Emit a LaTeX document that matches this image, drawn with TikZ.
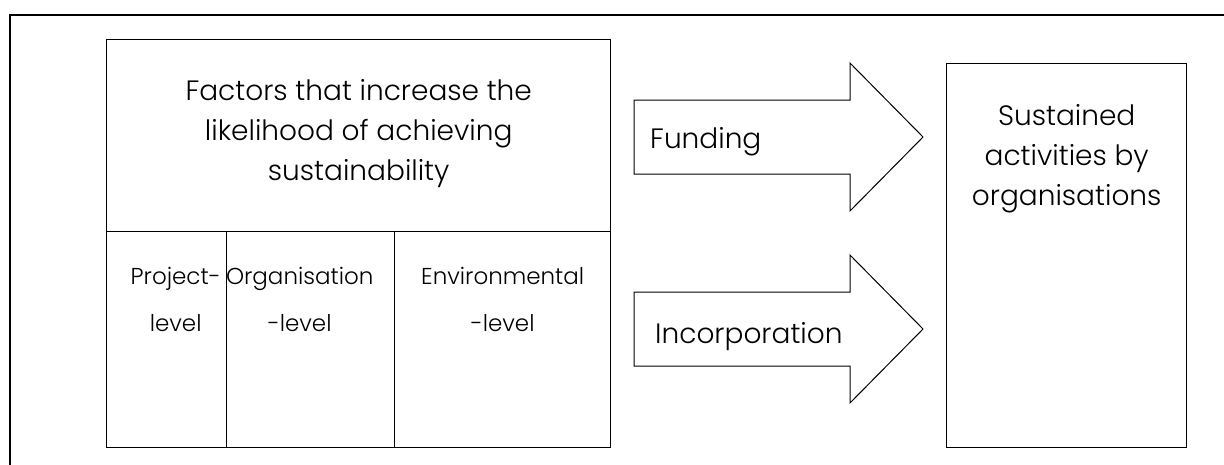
\documentclass[tikz,border=0pt]{standalone}
\usepackage{fontspec}
\setmainfont{Poppins}[UprightFont={* Light}]
\usetikzlibrary{positioning}

\begin{document}
\begin{tikzpicture}[x=1pt, y=-1pt,
  box/.style = {draw, line width=1.4pt, inner sep=0pt},
  big/.style = {font=\fontsize{28}{40}\selectfont, align=center, inner sep=0pt},
  small/.style = {font=\fontsize{23}{47}\selectfont, align=center, inner sep=0pt},
  blockarrow/.style = {draw, line width=1pt, line join=miter}]
\useasboundingbox (0,0) rectangle (1224,464);
\clip (0,0) rectangle (1224,464);

% frame round everything (runs off the page at right and bottom)
\draw[line width=1.3pt] (10,15) rectangle (1260,500);

% table of factors
\node[box, minimum width=504pt, minimum height=192pt, anchor=north west] (factors) at (106,39) {};
\node[big, below=40pt of factors.north] (factorstext) {Factors that increase the\\likelihood of achieving\\sustainability};
\node[box, minimum width=120pt, minimum height=216pt, anchor=north west] (project) at (106,231) {};
\node[box, minimum width=168pt, minimum height=216pt, anchor=north west] (organisation) at (226,231) {};
\node[box, minimum width=216pt, minimum height=216pt, anchor=north west] (environment) at (394,231) {};
\node[small, below=36pt of project.north, xshift=9pt] (projecttext) {Project-\\level};
\node[small, below=36pt of organisation.north, xshift=-11pt] (organisationtext) {Organisation\\-level};
\node[small, below=36pt of environment.north] (environmenttext) {Environmental\\-level};

% outcome
\node[box, minimum width=240pt, minimum height=384pt, anchor=north west] (sustained) at (946,63) {};
\node[big, below=41pt of sustained.north] (sustainedtext) {Sustained\\activities by\\organisations};

% the two block arrows
\draw[blockarrow] (634,100) -- (850,100) -- (850,63) -- (923,137) -- (850,211) -- (850,174) -- (634,174) -- cycle;
\node[big, anchor=base west] (funding) at (650,148) {Funding};
\draw[blockarrow] (634,292) -- (850,292) -- (850,255) -- (923,329) -- (850,403) -- (850,366) -- (634,366) -- cycle;
\node[big, anchor=base west] (incorporation) at (655,343) {Incorporation};
\end{tikzpicture}
\end{document}
